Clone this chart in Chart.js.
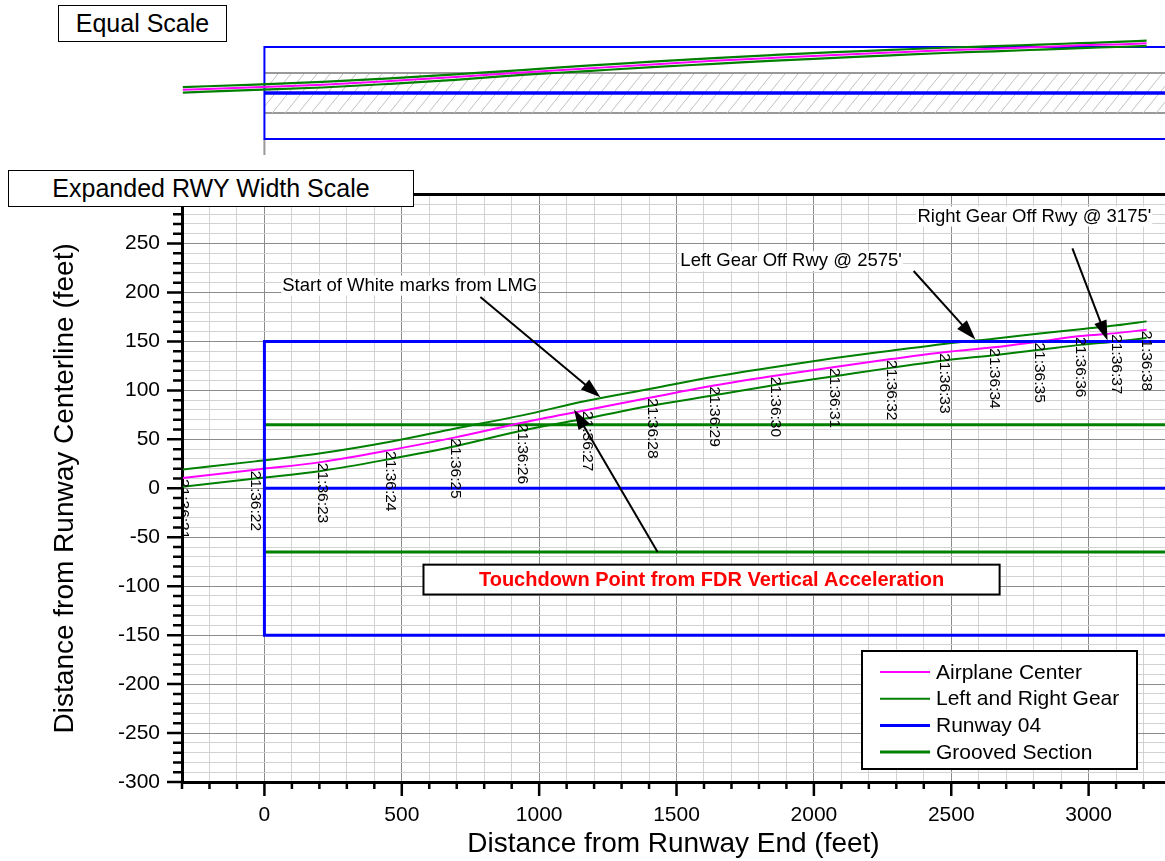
<!DOCTYPE html>
<html>
<head>
<meta charset="utf-8">
<title>Airplane track vs runway</title>
<script src="https://cdn.jsdelivr.net/npm/chart.js@4.4.1/dist/chart.umd.min.js"></script>
<style>
  html, body { margin: 0; padding: 0; background: #fff; }
  #page { position: relative; width: 1165px; height: 861px; overflow: hidden; background: #fff; }
  #equalChart { position: absolute; left: 0; top: 0; }
  #expandedChart { position: absolute; left: 0; top: 160px; }
  .panelTitle {
    position: absolute; box-sizing: border-box; border: 1.5px solid #000; background: #fff;
    font-family: 'Liberation Sans', Arial, sans-serif; font-size: 25px; text-align: center; z-index: 2;
  }
</style>
</head>
<body>
<div id="page">
  <canvas id="equalChart" width="1165" height="160"></canvas>
  <canvas id="expandedChart" width="1165" height="701"></canvas>
  <div class="panelTitle" style="left:58px;top:5px;width:169px;height:37px;line-height:34px;">Equal Scale</div>
  <div class="panelTitle" style="left:8px;top:170px;width:406px;height:37px;line-height:34px;">Expanded RWY Width Scale</div>
</div>
<script>
// --- values (feet) ---
const timeLabels = ['21:36:21', '21:36:22', '21:36:23', '21:36:24', '21:36:25', '21:36:26',
  '21:36:27', '21:36:28', '21:36:29', '21:36:30', '21:36:31', '21:36:32',
  '21:36:33', '21:36:34', '21:36:35', '21:36:36', '21:36:37', '21:36:38'];
const distanceFt = [-297, -33, 211, 458, 695, 938, 1174, 1411, 1636, 1858, 2076, 2280, 2473, 2655, 2822, 2971, 3102, 3211];
const centerFt = [10.5, 19, 27, 39, 52, 67, 80, 93, 105, 115, 124, 132, 139, 144, 150, 155.5, 158.5, 162];
const leftGearFt = [19.3, 27.5, 36, 47.5, 61, 74.5, 89.5, 102, 114, 124, 133, 140.5, 147.5, 152.8, 158, 162.5, 166.5, 170.5];
const rightGearFt = [1.5, 10, 18, 30, 43, 59, 71.5, 84.5, 95, 105.5, 114.5, 123, 130.5, 136, 141.5, 146.5, 150, 153.5];

const runwayStartFt = 0;
const runwayEndFt = 3400;      // runs past the right edge of the plot
const runwayHalfWidthFt = 150;
const groovedHalfWidthFt = 65;

const xTickStep = 100, xLabelStep = 500;
const yTickStep = 10, yLabelStep = 50;

const FONT = "'Liberation Sans', Arial, sans-serif";
Chart.defaults.font.family = FONT;
Chart.defaults.color = '#000';

const MAGENTA = '#ff00ff', GREEN = '#008000', BLUE = '#0000ff';
const GRID_MAJOR = '#8c8c8c', GRID_MINOR = '#d2d2d2';

const pts = ys => distanceFt.map((x, i) => ({ x: x, y: ys[i] }));
const center = pts(centerFt);
const leftGear = pts(leftGearFt);
const rightGear = pts(rightGearFt);
const runwayOutline = [
  { x: runwayEndFt, y: runwayHalfWidthFt }, { x: runwayStartFt, y: runwayHalfWidthFt },
  { x: runwayStartFt, y: -runwayHalfWidthFt }, { x: runwayEndFt, y: -runwayHalfWidthFt }
];
const runwayCenter = [{ x: runwayStartFt, y: 0 }, { x: runwayEndFt, y: 0 }];
const groovedTop = [{ x: runwayStartFt, y: groovedHalfWidthFt }, { x: runwayEndFt, y: groovedHalfWidthFt }];
const groovedBottom = [{ x: runwayStartFt, y: -groovedHalfWidthFt }, { x: runwayEndFt, y: -groovedHalfWidthFt }];

function line(data, color, width, extra) {
  return Object.assign({ data: data, borderColor: color, borderWidth: width, pointRadius: 0,
    fill: false, tension: 0 }, extra || {});
}

// ---------------- top panel: equal scale ----------------
const hatchTile = document.createElement('canvas');
hatchTile.width = 13; hatchTile.height = 16;
const hc = hatchTile.getContext('2d');
hc.strokeStyle = '#c2c2c2'; hc.lineWidth = 1;
hc.beginPath(); hc.moveTo(-6.5, 24); hc.lineTo(19.5, -8); hc.stroke();
const topCtx = document.getElementById('equalChart').getContext('2d');
const hatch = topCtx.createPattern(hatchTile, 'repeat');

new Chart(topCtx, {
  type: 'line',
  data: {
    datasets: [
      line(center, MAGENTA, 2, { order: 0, cubicInterpolationMode: 'monotone', clip: 12 }),
      line(leftGear, GREEN, 2.2, { order: 1, cubicInterpolationMode: 'monotone', clip: 12 }),
      line(rightGear, GREEN, 2.2, { order: 1, cubicInterpolationMode: 'monotone', clip: 12 }),
      line(runwayOutline, BLUE, 2, { order: 2, clip: 3 }),
      line(runwayCenter, BLUE, 3.5, { order: 2 }),
      line(groovedTop, '#999999', 2, { order: 3, fill: '+1', backgroundColor: hatch }),
      line(groovedBottom, '#999999', 2, { order: 3 }),
      line([{ x: runwayStartFt, y: -runwayHalfWidthFt }, { x: runwayStartFt, y: -202 }], '#999999', 2, { order: 4, clip: false })
    ]
  },
  options: {
    responsive: false,
    animation: false,
    events: [],
    layout: { padding: { left: 182, right: 0, top: 47, bottom: 21 } },
    plugins: { legend: { display: false }, tooltip: { enabled: false } },
    scales: {
      x: { type: 'linear', min: -300, max: 3278, display: false },
      y: { type: 'linear', min: -150, max: 150, display: false }
    }
  }
});

// ---------------- bottom panel: expanded runway width scale ----------------
const notes = [
  { text: 'Start of White marks from LMG', at: [65, 207], from: [786, 195.5], to: [1223, 93] },
  { text: "Left Gear Off Rwy @ 2575'", at: [1514, 232], from: [2363, 222], to: [2588, 152] },
  { text: "Right Gear Off Rwy @ 3175'", at: [2377, 277.6], from: [2941, 245], to: [3069, 151] }
];
const touchdown = {
  text: 'Touchdown Point from FDR Vertical Acceleration',
  box: [579, -78, 2676, -108.5], from: [1431, -65], to: [1127, 80.5]
};

function arrow(ctx, x1, y1, x2, y2) {
  const a = Math.atan2(y2 - y1, x2 - x1), L = 20, W = 6.5;
  ctx.beginPath();
  ctx.moveTo(x1, y1);
  ctx.lineTo(x2 - L * 0.8 * Math.cos(a), y2 - L * 0.8 * Math.sin(a));
  ctx.stroke();
  ctx.beginPath();
  ctx.moveTo(x2, y2);
  ctx.lineTo(x2 - L * Math.cos(a) + W * Math.sin(a), y2 - L * Math.sin(a) - W * Math.cos(a));
  ctx.lineTo(x2 - L * Math.cos(a) - W * Math.sin(a), y2 - L * Math.sin(a) + W * Math.cos(a));
  ctx.closePath();
  ctx.fill();
}

const decor = {
  id: 'decor',
  afterDraw(chart) {
    const ctx = chart.ctx, ca = chart.chartArea;
    const xs = chart.scales.x, ys = chart.scales.y;
    const X = v => xs.getPixelForValue(v), Y = v => ys.getPixelForValue(v);
    ctx.save();

    // top frame
    ctx.strokeStyle = '#000'; ctx.lineWidth = 3;
    ctx.beginPath(); ctx.moveTo(ca.left - 1.5, ca.top); ctx.lineTo(ca.right, ca.top); ctx.stroke();

    // tick marks, long at labelled values
    ctx.lineWidth = 2.5;
    ctx.beginPath();
    xs.ticks.forEach(t => {
      const len = t.value % xLabelStep === 0 ? 14 : 7;
      ctx.moveTo(X(t.value), ca.bottom); ctx.lineTo(X(t.value), ca.bottom + len);
    });
    ys.ticks.forEach(t => {
      const len = t.value % yLabelStep === 0 ? 15 : 9;
      ctx.moveTo(ca.left - len, Y(t.value)); ctx.lineTo(ca.left + 1, Y(t.value));
    });
    ctx.stroke();

    // time stamps along the airplane track
    ctx.beginPath(); ctx.rect(ca.left, ca.top, ca.right - ca.left, ca.bottom - ca.top); ctx.clip();
    const meta = chart.getDatasetMeta(0);
    ctx.fillStyle = '#000';
    ctx.font = '15.5px ' + FONT;
    ctx.textAlign = 'left'; ctx.textBaseline = 'middle';
    meta.data.forEach((p, i) => {
      ctx.save();
      ctx.translate(p.x, p.y);
      ctx.rotate(Math.PI / 2);
      ctx.fillText(timeLabels[i], 1, 0);
      ctx.restore();
    });

    // notes with arrows
    ctx.font = '18.5px ' + FONT;
    notes.forEach(n => {
      const tx = X(n.at[0]), ty = Y(n.at[1]);
      const w = ctx.measureText(n.text).width;
      ctx.fillStyle = '#fff';
      ctx.fillRect(tx - 1, ty - 10, w + 2, 20);
      ctx.fillStyle = '#000';
      ctx.fillText(n.text, tx, ty);
      ctx.strokeStyle = '#000'; ctx.lineWidth = 2;
      arrow(ctx, X(n.from[0]), Y(n.from[1]), X(n.to[0]), Y(n.to[1]));
    });

    // touchdown arrow and box
    ctx.strokeStyle = '#000'; ctx.fillStyle = '#000'; ctx.lineWidth = 2;
    arrow(ctx, X(touchdown.from[0]), Y(touchdown.from[1]), X(touchdown.to[0]), Y(touchdown.to[1]));
    const bx1 = X(touchdown.box[0]), by1 = Y(touchdown.box[1]);
    const bx2 = X(touchdown.box[2]), by2 = Y(touchdown.box[3]);
    ctx.fillStyle = '#fff';
    ctx.fillRect(bx1, by1, bx2 - bx1, by2 - by1);
    ctx.strokeRect(bx1, by1, bx2 - bx1, by2 - by1);
    ctx.fillStyle = '#ff0000';
    ctx.font = 'bold 20px ' + FONT;
    ctx.textAlign = 'center';
    ctx.fillText(touchdown.text, (bx1 + bx2) / 2, (by1 + by2) / 2 + 1);

    // legend box
    const items = chart.data.datasets.filter(d => d.legendLabel);
    const lw = 275, lh = 118;
    const lx = ca.right - 28 - lw, ly = ca.bottom - 13 - lh;
    ctx.fillStyle = '#fff';
    ctx.fillRect(lx, ly, lw, lh);
    ctx.strokeStyle = '#000'; ctx.lineWidth = 2;
    ctx.strokeRect(lx, ly, lw, lh);
    ctx.font = '21px ' + FONT;
    ctx.textAlign = 'left';
    items.forEach((d, i) => {
      const ry = ly + 21 + i * 26.7;
      ctx.strokeStyle = d.borderColor; ctx.lineWidth = d.borderWidth;
      ctx.beginPath(); ctx.moveTo(lx + 18, ry); ctx.lineTo(lx + 68, ry); ctx.stroke();
      ctx.fillStyle = '#000';
      ctx.fillText(d.legendLabel, lx + 74, ry + 1);
    });
    ctx.restore();
  }
};

new Chart(document.getElementById('expandedChart'), {
  type: 'line',
  data: {
    datasets: [
      line(center, MAGENTA, 2, { order: 1, cubicInterpolationMode: 'monotone', legendLabel: 'Airplane Center' }),
      line(leftGear, GREEN, 2, { order: 2, cubicInterpolationMode: 'monotone', legendLabel: 'Left and Right Gear' }),
      line(rightGear, GREEN, 2, { order: 2, cubicInterpolationMode: 'monotone' }),
      line(runwayOutline, BLUE, 3, { order: 0, legendLabel: 'Runway 04' }),
      line(runwayCenter, BLUE, 3, { order: 0 }),
      line(groovedTop, GREEN, 3, { order: 3, legendLabel: 'Grooved Section' }),
      line(groovedBottom, GREEN, 3, { order: 3 })
    ]
  },
  options: {
    responsive: false,
    animation: false,
    events: [],
    layout: { padding: { top: 30, right: 0, bottom: 0, left: 0 } },
    plugins: { legend: { display: false }, tooltip: { enabled: false } },
    scales: {
      x: {
        type: 'linear', min: -300, max: 3278,
        afterFit: s => { s.height = 79; },
        border: { color: '#000', width: 3 },
        grid: {
          color: c => (c.tick && c.tick.value % xLabelStep === 0) ? GRID_MAJOR : GRID_MINOR,
          lineWidth: 1, drawTicks: false
        },
        ticks: {
          stepSize: xTickStep, autoSkip: false, includeBounds: false, maxRotation: 0,
          padding: 21, color: '#000', font: { size: 21 },
          callback: v => v % xLabelStep === 0 ? String(v) : ''
        },
        title: { display: true, text: 'Distance from Runway End (feet)', color: '#000',
          font: { size: 28 }, padding: { top: 0, bottom: 0 } }
      },
      y: {
        type: 'linear', min: -300, max: 300,
        afterFit: s => { s.width = 182; },
        border: { color: '#000', width: 3 },
        grid: {
          color: c => (c.tick && c.tick.value % yLabelStep === 0) ? GRID_MAJOR : GRID_MINOR,
          lineWidth: 1, drawTicks: false
        },
        ticks: {
          stepSize: yTickStep, autoSkip: false, includeBounds: false,
          padding: 22, color: '#000', font: { size: 21 },
          callback: v => (v % yLabelStep === 0 && v < 300) ? String(v) : ''
        },
        title: { display: true, text: 'Distance from Runway Centerline (feet)', color: '#000',
          font: { size: 28 }, padding: { top: 48, bottom: 0 } }
      }
    }
  },
  plugins: [decor]
});
</script>
</body>
</html>
